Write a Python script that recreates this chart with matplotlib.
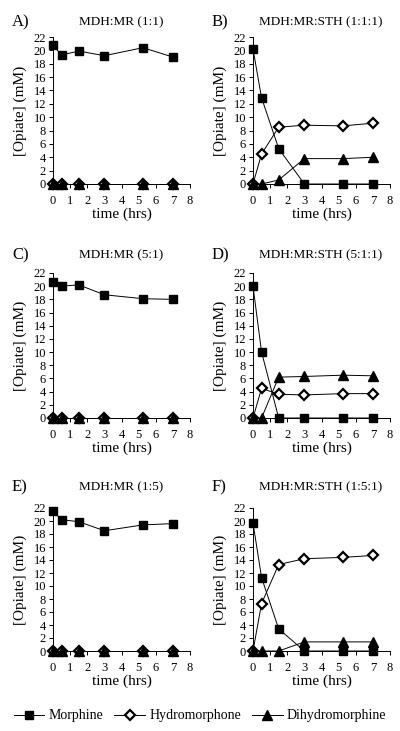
import matplotlib
matplotlib.use("Agg")
import matplotlib.pyplot as plt

plt.rcParams["font.family"] = ["Liberation Serif", "DejaVu Serif"]

time_hrs = [0, 0.5, 1.5, 3, 5.25, 7]

panel_tags = ["A)", "B)", "C)", "D)", "E)", "F)"]
panel_titles = ["MDH:MR (1:1)", "MDH:MR:STH (1:1:1)",
                "MDH:MR (5:1)", "MDH:MR:STH (5:1:1)",
                "MDH:MR (1:5)", "MDH:MR:STH (1:5:1)"]

morphine = [
    [20.8, 19.3, 19.9, 19.2, 20.4, 19.0],
    [20.2, 12.9, 5.3, 0, 0, 0],
    [20.7, 20.0, 20.2, 18.7, 18.1, 18.0],
    [20.0, 10.0, 0, 0, 0, 0],
    [21.5, 20.2, 19.9, 18.5, 19.4, 19.6],
    [19.7, 11.3, 3.4, 0, 0, 0],
]
hydromorphone = [
    [0, 0, 0, 0, 0, 0],
    [0, 4.5, 8.5, 8.8, 8.7, 9.1],
    [0, 0, 0, 0, 0, 0],
    [0, 4.5, 3.6, 3.5, 3.7, 3.7],
    [0, 0, 0, 0, 0, 0],
    [0, 7.3, 13.3, 14.2, 14.4, 14.7],
]
dihydromorphine = [
    [0, 0, 0, 0, 0, 0],
    [0, 0, 0.6, 3.8, 3.8, 4.0],
    [0, 0, 0, 0, 0, 0],
    [0, 0, 6.2, 6.3, 6.5, 6.4],
    [0, 0, 0, 0, 0, 0],
    [0, 0, 0, 1.4, 1.4, 1.4],
]

W, H = 400, 731
fig = plt.figure(figsize=(W / 100, H / 100), dpi=100)

# pixel boxes of each row: (top of axis, bottom of axis, y of header text)
rows = [(37, 184, 22), (273, 418, 255), (508, 651, 487)]
cols = [53, 253]
ax_w = 137

line_kw = dict(color="black", lw=0.7, clip_on=False)
handles = None
for i in range(6):
    r, c = divmod(i, 2)
    top, bot, ty = rows[r]
    left = cols[c]
    ax = fig.add_axes([left / W, 1 - bot / H, ax_w / W, (bot - top) / H])
    hh, = ax.plot(time_hrs, hydromorphone[i], marker="D", ms=5, mfc="white",
                  mec="black", mew=1.6, label="Hydromorphone", zorder=3, **line_kw)
    hd, = ax.plot(time_hrs, dihydromorphine[i], marker="^", ms=6.5, mfc="black",
                  mec="black", label="Dihydromorphine", zorder=4, **line_kw)
    hm, = ax.plot(time_hrs, morphine[i], marker="s", ms=6, mfc="black",
                  mec="black", label="Morphine", zorder=5, **line_kw)
    handles = [hm, hh, hd]
    ax.set_xlim(0, 8)
    ax.set_ylim(0, 22)
    ax.set_xticks(range(0, 9))
    ax.set_yticks(range(0, 23, 2))
    ax.tick_params(labelsize=9, length=3, width=0.7)
    ax.tick_params(axis="x", pad=5)
    ax.tick_params(axis="y", pad=2)
    for s in ("top", "right"):
        ax.spines[s].set_visible(False)
    for s in ("left", "bottom"):
        ax.spines[s].set_linewidth(0.7)
    ax.set_xlabel("time (hrs)", fontsize=11, labelpad=0)
    ax.set_ylabel("[Opiate] (mM)", fontsize=11, labelpad=5)
    fig.text((left - 41) / W, 1 - ty / H, panel_tags[i], fontsize=12,
             va="center", ha="left")
    fig.text((left + 68) / W, 1 - ty / H, panel_titles[i], fontsize=9.5,
             va="center", ha="center")

fig.legend(handles, [h.get_label() for h in handles], loc="center",
           bbox_to_anchor=(0.5, 1 - 716 / H), ncol=3, frameon=False,
           fontsize=10, handlelength=2.2, handletextpad=0.3,
           columnspacing=0.8)

fig.savefig("out.png", dpi=100)
